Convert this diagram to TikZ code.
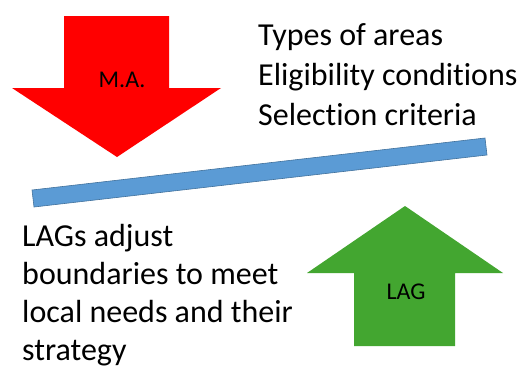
\documentclass[tikz,border=0pt]{standalone}
\usepackage{fontspec}
\setmainfont{Carlito}[Ligatures=NoCommon]
\usetikzlibrary{positioning}

\definecolor{marred}{HTML}{FF0000}
\definecolor{laggreen}{HTML}{43A630}
\definecolor{barblue}{HTML}{5B9BD5}
\definecolor{barline}{HTML}{41719C}

\begin{document}
\begin{tikzpicture}[
	x=1pt,y=-1pt,
	bigtext/.style={align=left,inner sep=0pt,anchor=base west,font=\fontsize{32}{40}\selectfont},
	arrowtext/.style={inner sep=0pt,font=\fontsize{24}{28}\selectfont}
	]
	\useasboundingbox (0,0) rectangle (518,367);
	% managing authority arrow
	\fill[marred] (64,16) -- (169,16) -- (169,88) -- (221,88) -- (117,157) -- (12,88) -- (64,88) -- cycle;
	\node[arrowtext] (ma) at (122,80) {M.A.};
	% the bar
	\filldraw[fill=barblue,draw=barline,line width=0.6pt] (32,190) -- (485,138) -- (487,155) -- (34,207) -- cycle;
	% LAG arrow
	\fill[laggreen] (405,206) -- (503,273) -- (455,273) -- (455,346) -- (354,346) -- (354,273) -- (307,273) -- cycle;
	\node[arrowtext] (lag) at (406,292) {LAG};
	% texts (anchored at the last baseline)
	\node[bigtext] (rules) at (258,125) {Types of areas\\Eligibility conditions\\Selection criteria};
	\node[bigtext,font=\fontsize{32}{38}\selectfont] (lags) at (22,360) {LAGs adjust\\boundaries to meet\\local needs and their\\strategy};
\end{tikzpicture}
\end{document}
